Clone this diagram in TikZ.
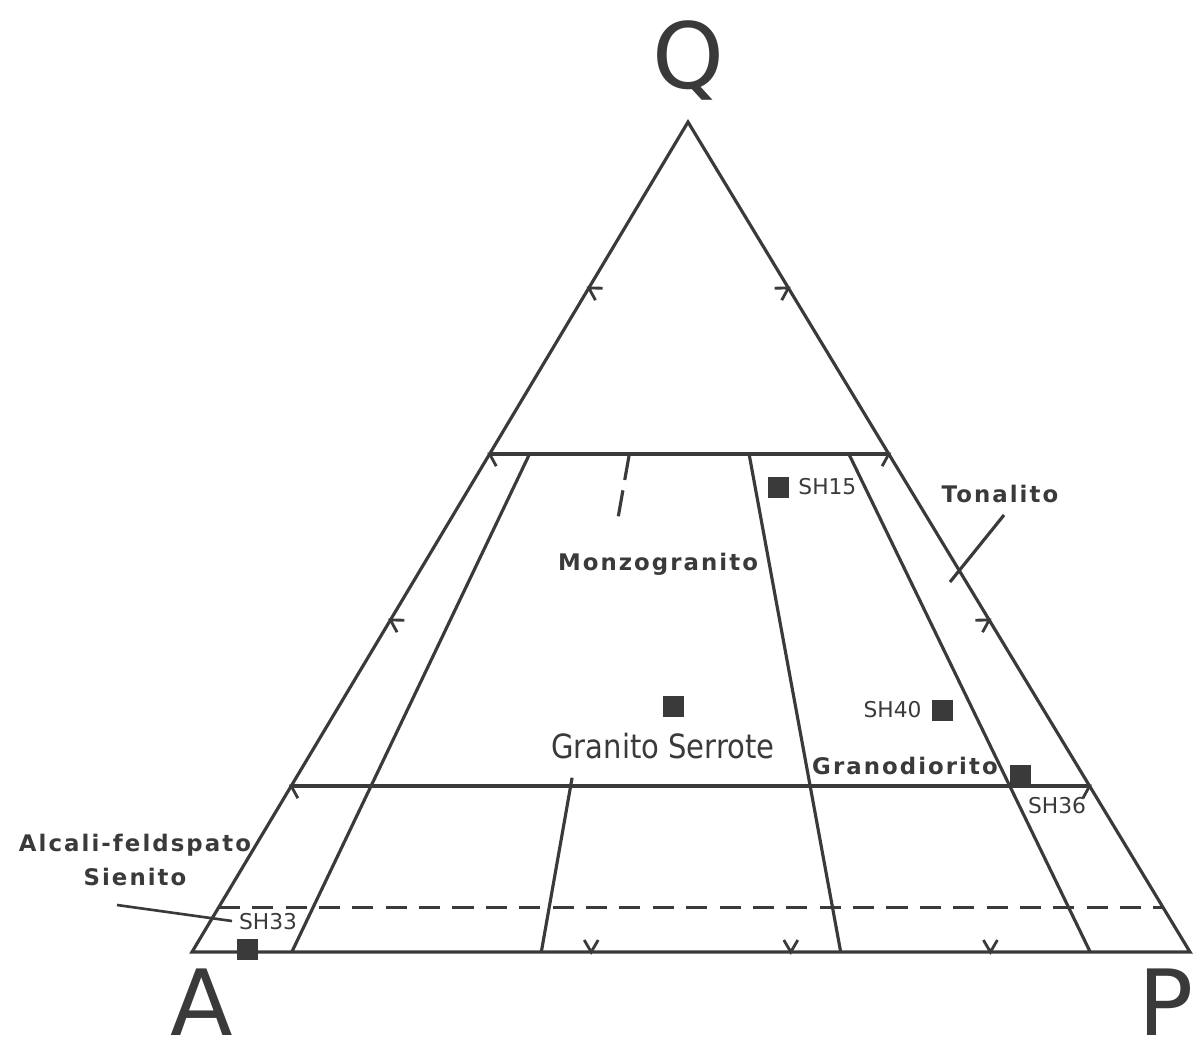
\documentclass[tikz,border=0pt]{standalone}
\usepackage{fontspec}
\setmainfont{DejaVu Sans}
\newfontfamily\rockfont[LetterSpace=9]{DejaVu Sans}
\usetikzlibrary{calc,positioning}
\definecolor{ink}{HTML}{3A3A3A}
\tikzset{
  edgemark/.pic={\draw[line width=1.6pt] (-12,7) -- (0,0) -- (-12,-7);},
  sample/.style={fill=ink, minimum size=0.42cm, inner sep=0pt},
  rock/.style={font=\rockfont\bfseries\fontsize{13}{19}\selectfont, text=ink},
  code/.style={font=\fontsize{12.4}{14}\selectfont, text=ink, inner sep=1pt},
  corner/.style={font=\fontsize{52}{58}\selectfont, text=ink, inner sep=0pt}
}

\begin{document}
\begin{tikzpicture}[x=0.02cm, y=-0.02cm, line width=1.8pt, color=ink]
\useasboundingbox (0,0) rectangle (1197,1052);
\coordinate (A) at (192,952);
\coordinate (P) at (1190,952);
\coordinate (Q) at (688,122);
\coordinate (b10) at ($(A)!0.10!(P)$);
\coordinate (b35) at ($(A)!0.35!(P)$);
\coordinate (b65) at ($(A)!0.65!(P)$);
\coordinate (b90) at ($(A)!0.90!(P)$);

\draw (A) -- (Q) -- (P) -- cycle;
\draw ($(A)!0.6!(Q)$) -- ($(P)!0.6!(Q)$);
\draw ($(A)!0.2!(Q)$) -- ($(P)!0.2!(Q)$);
\draw[dash pattern=on 12pt off 7pt] ($(A)!0.054!(Q)$) -- ($(P)!0.054!(Q)$);
\draw (b10) -- ($(b10)!0.6!(Q)$);
\draw (b65) -- ($(b65)!0.6!(Q)$);
\draw (b90) -- ($(b90)!0.6!(Q)$);
\draw (b35) -- ($(b35)!0.21!(Q)$);
\draw[dash pattern=on 15pt off 6pt] ($(b35)!0.6!(Q)$) -- ($(b35)!0.523!(Q)$);

\foreach \f in {0.2,0.4,0.6,0.8} {
  \path ($(A)!\f!(Q)$) pic[rotate=149] {edgemark};
  \path ($(P)!\f!(Q)$) pic[rotate=31] {edgemark};
}
\foreach \f in {0.4,0.6,0.8}
  \path ($(A)!\f!(P)$) pic[rotate=-90] {edgemark};

\node (sh15) [sample] at (778,487) {};
\node (serrote) [sample] at (673,706) {};
\node (sh40) [sample] at (942,710) {};
\node (sh36) [sample] at (1020,775) {};
\node (sh33) [sample] at (247,949) {};

\node (sh15lbl) [code, right=0.1cm of sh15] {SH15};
\node (sh40lbl) [code, left=0.1cm of sh40] {SH40};
\node (sh36lbl) [code] at (1057,806) {SH36};
\node (sh33lbl) [code] at (268,922) {SH33};
\node (serlbl) [code] at (663,746) {\scalebox{0.87}[1]{\fontsize{19}{22}\selectfont Granito Serrote}};

\node (monzo) [rock] at (658,564) {Monzogranito};
\node (grano) [rock] at (905,766) {Granodiorito};
\node (tonal) [rock] at (1000,494) {Tonalito};
\node (alcali) [rock, align=center] at (135,860) {Alcali-feldspato\\Sienito};

\coordinate (tonA) at (1004,515);
\coordinate (tonB) at (950,582);
\draw (tonA) -- (tonB);
\coordinate (alcA) at (117,905);
\coordinate (alcB) at (232,921);
\draw[line width=1.5pt] (alcA) -- (alcB);

\node (Qlbl) [corner] at (688,60) {Q};
\node (Albl) [corner] at (202,1002) {A};
\node (Plbl) [corner] at (1166,1002) {P};
\end{tikzpicture}
\end{document}
